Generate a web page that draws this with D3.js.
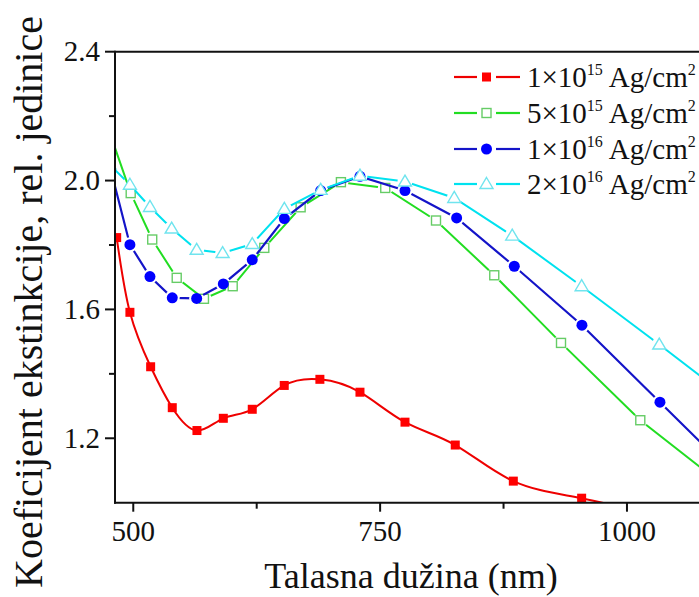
<!DOCTYPE html>
<html><head><meta charset="utf-8">
<script src="https://cdn.jsdelivr.net/npm/d3@7/dist/d3.min.js"></script>
<style>body{margin:0;background:#fff}svg{display:block}text{font-family:"Liberation Serif","Times New Roman",serif;fill:#111}</style>
</head><body><svg id="c" width="699" height="597" font-family="Liberation Serif"></svg>
<script>
// ---- data ----
const redX = [483.2, 496.6, 517.6, 539.5, 564.5, 591.2, 620.5, 652.9, 689.0, 729.6, 775.2, 826.1, 884.9, 954.1, 1033];
const redY = [1.823, 1.591, 1.422, 1.295, 1.224, 1.262, 1.290, 1.364, 1.383, 1.343, 1.250, 1.179, 1.067, 1.014, 0.955];
const greenX = [476, 497.4, 519.2, 544.0, 571.6, 600.7, 632.7, 669.5, 710.3, 755.2, 806.6, 865.6, 933.2, 1013.5, 1095];
const greenY = [2.15, 1.961, 1.817, 1.698, 1.633, 1.672, 1.791, 1.917, 1.995, 1.977, 1.876, 1.706, 1.496, 1.256, 1.06];
const blueX = [476, 496.6, 516.9, 539.5, 564.2, 591.2, 620.5, 653.0, 689.8, 729.6, 775.2, 827.5, 885.9, 954.4, 1033.4, 1110];
const blueY = [2.048, 1.801, 1.702, 1.636, 1.634, 1.679, 1.754, 1.882, 1.969, 2.013, 1.969, 1.884, 1.734, 1.551, 1.312, 1.08];
const cyanX = [476, 496.6, 516.9, 538.9, 564.2, 590.5, 620.5, 653.0, 689.8, 729.6, 775.2, 825.1, 883.8, 954.1, 1032.7, 1110];
const cyanY = [2.05, 1.987, 1.918, 1.851, 1.785, 1.775, 1.803, 1.912, 1.971, 2.015, 1.997, 1.946, 1.829, 1.672, 1.491, 1.31];
const legendBase = ["1×10", "5×10", "1×10", "2×10"];
const legendExp = ["15", "15", "16", "16"];
const xMajor = [500, 750, 1000];
const xMinor = [625, 875];
const yMajor = [1.2, 1.6, 2.0, 2.4];
const yMinor = [1.4, 1.8, 2.2];
const xTitle = "Talasna dužina (nm)";
const yTitle = "Koeficijent ekstinkcije, rel. jedinice";

// ---- layout ----
const svg = d3.select("#c");
const L = 115, T = 51.7, B = 502.7;
const x = d3.scaleLinear().domain([481.5, 1110]).range([L, L + (1110 - 481.5) * 0.9874]);
const y = d3.scaleLinear().domain([1.0, 2.4]).range([B, T]);
const R = x(1110);

const defs = svg.append("defs");
defs.append("clipPath").attr("id", "plotclip").append("rect")
  .attr("x", L).attr("y", T).attr("width", R - L).attr("height", B - T);

const series = [
  {id: "red", xs: redX, ys: redY, line: "#ee0000", mk: "sqf", mcol: "#ff0000", curve: d3.curveNatural, lw: 2},
  {id: "green", xs: greenX, ys: greenY, line: "#22dd22", mk: "sqo", mcol: "#66cc66", curve: d3.curveLinear, lw: 2},
  {id: "blue", xs: blueX, ys: blueY, line: "#1414c8", mk: "circ", mcol: "#0000ff", curve: d3.curveLinear, lw: 2.2},
  {id: "cyan", xs: cyanX, ys: cyanY, line: "#00e2ef", mk: "tri", mcol: "#70e4ee", curve: d3.curveLinear, lw: 2}
];

function drawMarker(g, type, cx, cy, col) {
  if (type === "sqf") g.append("rect").attr("x", cx - 4.5).attr("y", cy - 4.5).attr("width", 9).attr("height", 9).attr("fill", col);
  else if (type === "sqo") g.append("rect").attr("x", cx - 4.5).attr("y", cy - 4.5).attr("width", 9).attr("height", 9).attr("fill", "#fff").attr("stroke", col).attr("stroke-width", 1.4);
  else if (type === "circ") g.append("circle").attr("cx", cx).attr("cy", cy).attr("r", 5.5).attr("fill", col);
  else if (type === "tri") g.append("path").attr("d", `M${cx},${cy - 6.5}L${cx + 6.5},${cy + 4.5}L${cx - 6.5},${cy + 4.5}Z`).attr("fill", "#fff").attr("stroke", col).attr("stroke-width", 1.4);
}

const plot = svg.append("g").attr("clip-path", "url(#plotclip)");
series.forEach(s => {
  const pts = s.xs.map((v, i) => [x(v), y(s.ys[i])]);
  const m = defs.append("mask").attr("id", "m-" + s.id).attr("maskUnits", "userSpaceOnUse")
    .attr("x", 0).attr("y", 0).attr("width", 699).attr("height", 597);
  m.append("rect").attr("width", 699).attr("height", 597).attr("fill", "#fff");
  if (s.mk !== "sqf") pts.forEach(p => m.append("circle").attr("cx", p[0]).attr("cy", p[1]).attr("r", 7.5).attr("fill", "#000"));
  plot.append("path").attr("d", d3.line().curve(s.curve)(pts)).attr("fill", "none")
    .attr("stroke", s.line).attr("stroke-width", s.lw).attr("mask", "url(#m-" + s.id + ")");
  const mg = plot.append("g");
  pts.forEach(p => drawMarker(mg, s.mk, p[0], p[1], s.mcol));
});

// ---- axes ----
const ax = svg.append("g").attr("stroke", "#111").attr("stroke-width", 2);
ax.append("line").attr("x1", L).attr("x2", 699).attr("y1", T).attr("y2", T);
ax.append("line").attr("x1", L).attr("x2", L).attr("y1", T - 1).attr("y2", B + 1);
ax.append("line").attr("x1", L - 1).attr("x2", 699).attr("y1", B).attr("y2", B);
xMajor.forEach(v => ax.append("line").attr("x1", x(v)).attr("x2", x(v)).attr("y1", B).attr("y2", B + 9));
xMinor.forEach(v => ax.append("line").attr("x1", x(v)).attr("x2", x(v)).attr("y1", B).attr("y2", B + 6));
yMajor.forEach(v => ax.append("line").attr("x1", L - 10).attr("x2", L).attr("y1", y(v)).attr("y2", y(v)));
yMinor.forEach(v => ax.append("line").attr("x1", L - 6).attr("x2", L).attr("y1", y(v)).attr("y2", y(v)));

const fmtY = d3.format(".1f");
xMajor.forEach(v => svg.append("text").attr("x", x(v)).attr("y", 541).attr("text-anchor", "middle")
  .attr("font-size", 29).text(v));
yMajor.forEach(v => svg.append("text").attr("x", 100).attr("y", y(v) + 9.5).attr("text-anchor", "end")
  .attr("font-size", 29).text(fmtY(v)));

svg.append("text").attr("x", 411).attr("y", 588).attr("text-anchor", "middle").attr("font-size", 36).text(xTitle);
svg.append("text").attr("transform", "translate(42,302) rotate(-90)").attr("text-anchor", "middle")
  .attr("font-size", 40).text(yTitle);

// ---- legend ----
const legY = [77, 113, 149, 184];
series.forEach((s, i) => {
  const g = svg.append("g");
  const cy = legY[i];
  g.append("line").attr("x1", 454).attr("x2", 477).attr("y1", cy).attr("y2", cy).attr("stroke", s.line).attr("stroke-width", 2.2);
  g.append("line").attr("x1", 496).attr("x2", 520).attr("y1", cy).attr("y2", cy).attr("stroke", s.line).attr("stroke-width", 2.2);
  drawMarker(g, s.mk, 486.5, cy, s.mcol);
  const t = g.append("text").attr("x", 527).attr("y", cy + 10).attr("font-size", 29);
  t.append("tspan").text(legendBase[i]);
  t.append("tspan").attr("dy", -12).attr("font-size", 16).text(legendExp[i]);
  t.append("tspan").attr("dy", 12).attr("dx", 6).text("Ag/cm");
  t.append("tspan").attr("dy", -12).attr("font-size", 16).text("2");
});
</script></body></html>
